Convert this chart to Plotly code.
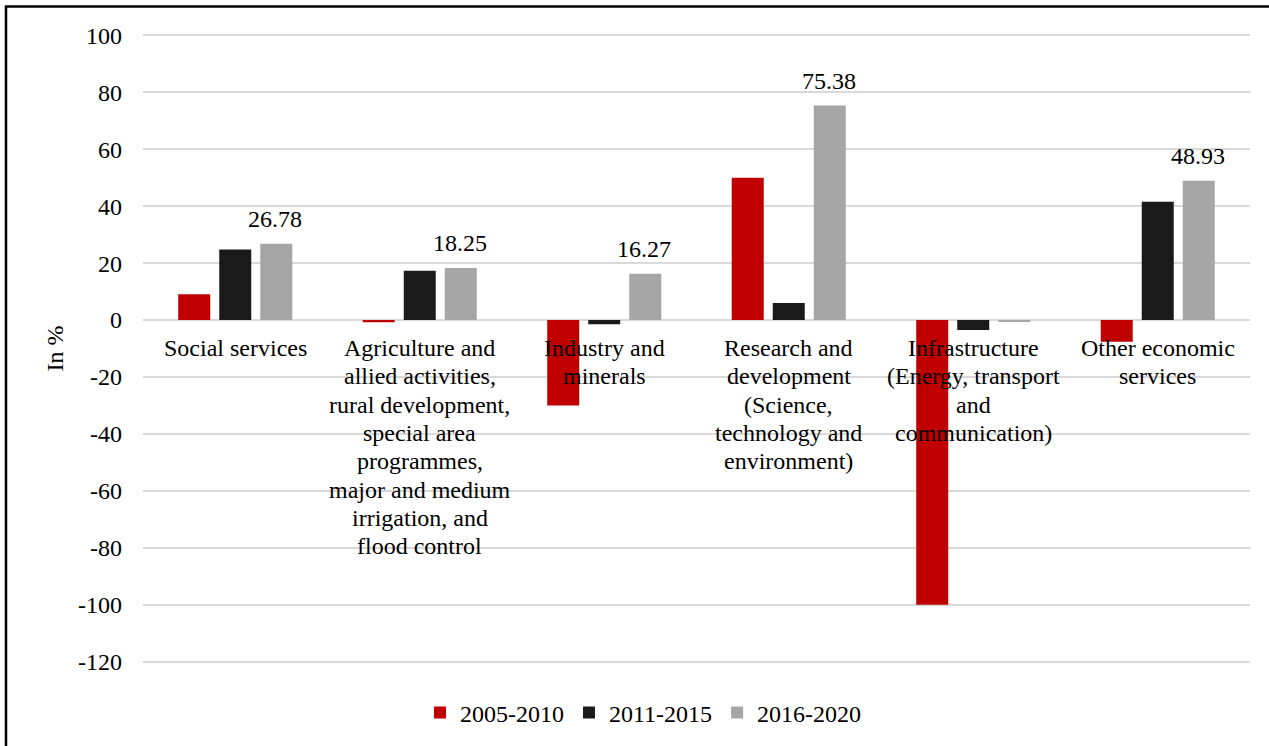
import plotly.graph_objects as go

# Sector categories (wrapped for display under the zero line)
categories = [
    "Social services",
    "Agriculture and<br>allied activities,<br>rural development,<br>special area<br>programmes,<br>major and medium<br>irrigation, and<br>flood control",
    "Industry and<br>minerals",
    "Research and<br>development<br>(Science,<br>technology and<br>environment)",
    "Infrastructure<br>(Energy, transport<br>and<br>communication)",
    "Other economic<br>services",
]

# Growth per period, in %
series_names = ["2005-2010", "2011-2015", "2016-2020"]
values_2005_2010 = [9.1, -0.8, -30.0, 50.0, -100.0, -7.6]
values_2011_2015 = [24.8, 17.3, -1.5, 6.0, -3.5, 41.6]
values_2016_2020 = [26.78, 18.25, 16.27, 75.38, -0.6, 48.93]

colors = ["#C00000", "#1A1A1A", "#A6A6A6"]
y_ticks = list(range(-120, 101, 20))

FONT = "Liberation Serif"
FS = 24
BLACK = "#000000"

# Plot geometry used for label offsets
W, H = 1269, 746
M_L, M_R, M_T, M_B = 143, 19, 34, 82
BARGAP, BARGROUPGAP = 0.333, 0.22
n_series = 3
slot_px = (W - M_L - M_R) / len(categories) * (1 - BARGAP) / n_series
LINE_H = 28.3

fig = go.Figure()
for name, vals, col in zip(series_names,
                           [values_2005_2010, values_2011_2015, values_2016_2020],
                           colors):
    fig.add_trace(go.Bar(
        name=name,
        x=categories,
        y=vals,
        marker=dict(color=col, line=dict(width=0)),
    ))

# Value labels above the 2016-2020 bars (positive values only)
for cat, v in zip(categories, values_2016_2020):
    if v > 0:
        fig.add_annotation(
            x=cat, y=v, xref="x", yref="y",
            text=f"{v:.2f}", showarrow=False,
            xanchor="center", yanchor="bottom",
            xshift=slot_px - 1, yshift=10,
            font=dict(family=FONT, size=FS, color=BLACK),
        )

# Category labels hang just below the zero line, one line at a time
for cat in categories:
    for i, line in enumerate(cat.split("<br>")):
        fig.add_annotation(
            x=cat, y=0, xref="x", yref="y",
            text=line, showarrow=False,
            yanchor="middle", xanchor="center",
            yshift=-(28 + i * LINE_H),
            font=dict(family=FONT, size=FS, color=BLACK),
        )

# Outer frame of the chart
plot_w = W - M_L - M_R
plot_h = H - M_T - M_B
fig.add_shape(
    type="rect", xref="paper", yref="paper",
    x0=(6 - M_L) / plot_w, x1=1.3,
    y0=-0.4, y1=(H - M_B - 6.5) / plot_h,
    line=dict(color=BLACK, width=2.5),
    fillcolor="rgba(0,0,0,0)",
    layer="above",
)

fig.update_layout(
    width=W, height=H,
    margin=dict(l=M_L, r=M_R, t=M_T, b=M_B),
    paper_bgcolor="white",
    plot_bgcolor="white",
    barmode="group",
    bargap=BARGAP,
    bargroupgap=BARGROUPGAP,
    font=dict(family=FONT, size=FS, color=BLACK),
    showlegend=True,
    legend=dict(
        orientation="h",
        x=(420 - M_L) / plot_w, xanchor="left",
        y=(H - M_B - 713) / plot_h, yanchor="middle",
        font=dict(family=FONT, size=FS, color=BLACK),
        bgcolor="rgba(0,0,0,0)",
    ),
    xaxis=dict(
        showticklabels=False, showgrid=False, zeroline=False,
        showline=False, ticks="",
    ),
    yaxis=dict(
        range=[-120.5, 100.5],
        tickvals=y_ticks,
        ticktext=[str(t) for t in y_ticks],
        showgrid=True, gridcolor="#D9D9D9", gridwidth=1.5,
        zeroline=True, zerolinecolor="#D9D9D9", zerolinewidth=1.5,
        showline=False, ticks="",
        ticklabelstandoff=20,
        tickfont=dict(family=FONT, size=FS, color=BLACK),
        title=dict(text="In %", standoff=7,
                   font=dict(family=FONT, size=FS, color=BLACK)),
    ),
)

fig.write_html("out.html")
